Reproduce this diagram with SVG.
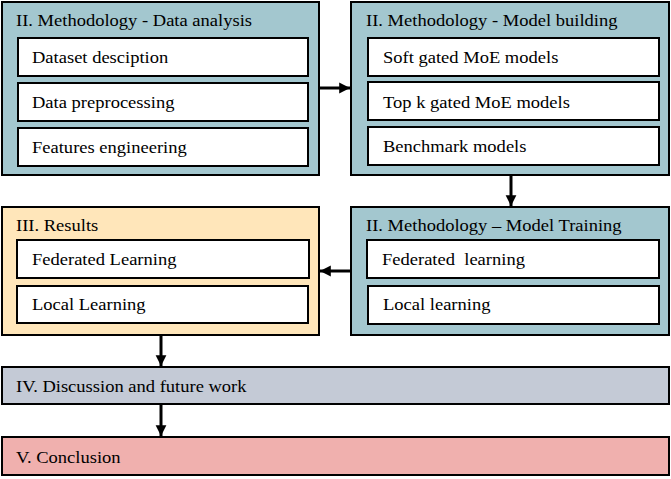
<svg xmlns="http://www.w3.org/2000/svg" width="671" height="479" viewBox="0 0 671 479">
<defs>
<style>
.t{font-family:"Liberation Serif","Times New Roman",serif;font-size:17px;fill:#000;white-space:pre}
.outer{stroke:#000;stroke-width:2}
.blue{fill:#A3C7CF}
.yellow{fill:#FFE6BA}
.grey{fill:#C4CAD6}
.red{fill:#F0B0AE}
.inner{fill:#fff;stroke:#000;stroke-width:2}
.conn{stroke:#000;stroke-width:3;fill:none}
</style>
<marker id="ah" viewBox="0 0 10 10" refX="10" refY="5" markerWidth="3.6" markerHeight="4" markerUnits="strokeWidth" orient="auto">
<path d="M0,0 L10,5 L0,10 Z" fill="#000"/>
</marker>
</defs>
<g id="data-analysis">
<rect class="outer blue" x="2" y="2" width="317" height="173"/>
<text class="t" transform="translate(16 26) scale(1.09 1)">II. Methodology - Data analysis</text>
<rect class="inner" x="18" y="38" width="290" height="38"/>
<text class="t" transform="translate(32 63) scale(1.09 1)">Dataset desciption</text>
<rect class="inner" x="18" y="83" width="290" height="38"/>
<text class="t" transform="translate(32 108) scale(1.09 1)">Data preprocessing</text>
<rect class="inner" x="18" y="128" width="290" height="38"/>
<text class="t" transform="translate(32 153) scale(1.09 1)">Features engineering</text>
</g>
<g id="model-building">
<rect class="outer blue" x="351" y="2" width="318" height="173"/>
<text class="t" transform="translate(366 26) scale(1.09 1)">II. Methodology - Model building</text>
<rect class="inner" x="368" y="38" width="291" height="38"/>
<text class="t" transform="translate(383 63) scale(1.09 1)">Soft gated MoE models</text>
<rect class="inner" x="368" y="82" width="291" height="38"/>
<text class="t" transform="translate(383 108) scale(1.09 1)">Top k gated MoE models</text>
<rect class="inner" x="368" y="127" width="291" height="38"/>
<text class="t" transform="translate(383 152) scale(1.09 1)">Benchmark models</text>
</g>
<g id="results">
<rect class="outer yellow" x="2" y="207" width="317" height="128"/>
<text class="t" transform="translate(16 231) scale(1.09 1)">III. Results</text>
<rect class="inner" x="17" y="240" width="292" height="38"/>
<text class="t" transform="translate(32 265) scale(1.09 1)">Federated Learning</text>
<rect class="inner" x="17" y="286" width="291" height="37"/>
<text class="t" transform="translate(32 310) scale(1.09 1)">Local Learning</text>
</g>
<g id="model-training">
<rect class="outer blue" x="351" y="207" width="318" height="128"/>
<text class="t" transform="translate(366 231) scale(1.09 1)">II. Methodology – Model Training</text>
<rect class="inner" x="367" y="240" width="292" height="38"/>
<text class="t" transform="translate(382 265) scale(1.09 1)">Federated  learning</text>
<rect class="inner" x="368" y="286" width="291" height="38"/>
<text class="t" transform="translate(383 310) scale(1.09 1)">Local learning</text>
</g>
<g id="discussion">
<rect class="outer grey" x="2" y="367" width="667" height="37"/>
<text class="t" transform="translate(16 392) scale(1.09 1)">IV. Discussion and future work</text>
</g>
<g id="conclusion">
<rect class="outer red" x="2" y="437" width="667" height="38"/>
<text class="t" transform="translate(16 463) scale(1.09 1)">V. Conclusion</text>
</g>
<g id="connectors">
<line class="conn" x1="320" y1="88" x2="350" y2="88" marker-end="url(#ah)"/>
<line class="conn" x1="511" y1="176" x2="511" y2="206" marker-end="url(#ah)"/>
<line class="conn" x1="350" y1="271" x2="320" y2="271" marker-end="url(#ah)"/>
<line class="conn" x1="161" y1="336" x2="161" y2="366" marker-end="url(#ah)"/>
<line class="conn" x1="161" y1="405" x2="161" y2="436" marker-end="url(#ah)"/>
</g>
</svg>
